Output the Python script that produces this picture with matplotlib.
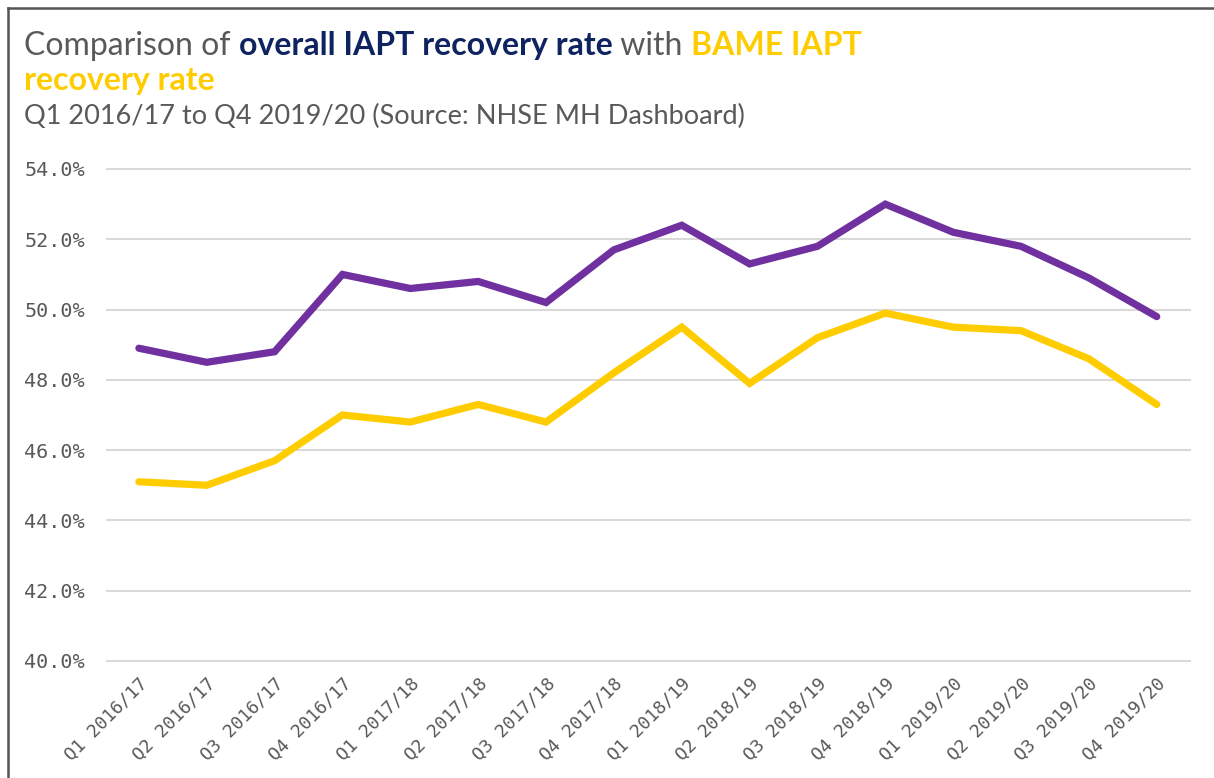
import numpy as np
import matplotlib.pyplot as plt
from matplotlib.lines import Line2D

quarters = ["Q1 2016/17", "Q2 2016/17", "Q3 2016/17", "Q4 2016/17",
            "Q1 2017/18", "Q2 2017/18", "Q3 2017/18", "Q4 2017/18",
            "Q1 2018/19", "Q2 2018/19", "Q3 2018/19", "Q4 2018/19",
            "Q1 2019/20", "Q2 2019/20", "Q3 2019/20", "Q4 2019/20"]
overall = [48.9, 48.5, 48.8, 51.0, 50.6, 50.8, 50.2, 51.7,
           52.4, 51.3, 51.8, 53.0, 52.2, 51.8, 50.9, 49.8]
bame = [45.1, 45.0, 45.7, 47.0, 46.8, 47.3, 46.8, 48.2,
        49.5, 47.9, 49.2, 49.9, 49.5, 49.4, 48.6, 47.3]
yticks = [40, 42, 44, 46, 48, 50, 52, 54]

purple = "#7030a0"
gold = "#ffcc00"
navy = "#0f2360"
grey = "#595959"

fig = plt.figure(figsize=(12.14, 7.78), dpi=100)
ax = fig.add_axes([107/1214, 1-661/778, (1190-107)/1214, (661-169)/778])

x = np.arange(len(quarters))
ax.plot(x, overall, color=purple, lw=5.2, solid_capstyle="round", solid_joinstyle="miter", zorder=3)
ax.plot(x, bame, color=gold, lw=5.2, solid_capstyle="round", solid_joinstyle="miter", zorder=3)

ax.set_xlim(-0.47, 15.49)
ax.set_ylim(40, 54)
ax.set_yticks(yticks)
ax.set_yticklabels([f"{v:.1f}%" for v in yticks], family="DejaVu Sans Mono", fontsize=14.5, color=grey)
ax.set_xticks(x)
ax.set_xticklabels(quarters, rotation=45, ha="right", rotation_mode="anchor",
                   family="DejaVu Sans Mono", fontsize=13, color=grey)
ax.tick_params(axis="both", length=0)
ax.tick_params(axis="y", pad=16)
ax.tick_params(axis="x", pad=10)
ax.grid(axis="y", color="#d9d9d9", lw=1.5, clip_on=False)
ax.set_axisbelow(True)
for s in ax.spines.values():
    s.set_visible(False)

# frame at left/top
fig.add_artist(Line2D([8/1214, 8/1214], [0, 1-8/778], color="#555555", lw=1.8))
fig.add_artist(Line2D([8/1214, 1], [1-8/778, 1-8/778], color="#555555", lw=1.8))

# multi-coloured title
title_font = "Lato"
fig.canvas.draw()
r = fig.canvas.get_renderer()
xpos = 24
y1 = 1 - 55/778
parts = [("Comparison of ", grey, "normal"),
         ("overall IAPT recovery rate", navy, "bold"),
         (" with ", grey, "normal"),
         ("BAME IAPT", gold, "bold")]
for txt, col, wt in parts:
    t = fig.text(xpos/1214, y1, txt, color=col, fontsize=23, fontweight=wt,
                 family=title_font, va="baseline", ha="left")
    bb = t.get_window_extent(renderer=r)
    xpos += bb.width
fig.text(24/1214, 1 - 90/778, "recovery rate", color=gold, fontsize=23, fontweight="bold",
         family=title_font, va="baseline", ha="left")
fig.text(24/1214, 1 - 124/778, "Q1 2016/17 to Q4 2019/20 (Source: NHSE MH Dashboard)",
         color=grey, fontsize=19.5, family=title_font, va="baseline", ha="left")

fig.savefig("out.png", dpi=100)
